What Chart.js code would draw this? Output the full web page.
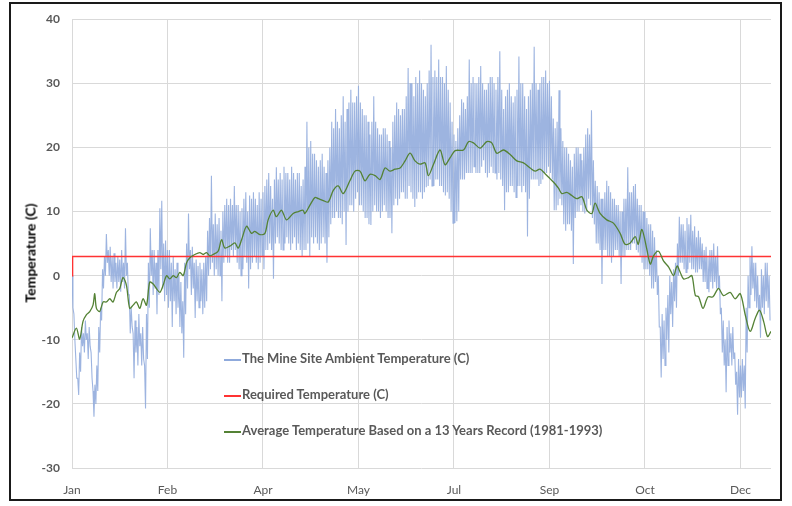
<!DOCTYPE html>
<html>
<head>
<meta charset="utf-8">
<script src="https://cdn.jsdelivr.net/npm/chart.js@4.4.1/dist/chart.umd.min.js"></script>
<style>
  html, body { margin: 0; padding: 0; background: #fff; }
  #wrap { position: relative; width: 792px; height: 506px; }
  #frame { position: absolute; left: 9px; top: 2px; width: 769px; height: 495px; border: 2px solid #1a1a1a; pointer-events: none; }
  .row { position: absolute; left: 224px; height: 16px; line-height: 16px; white-space: nowrap; font: bold 13px Lato, sans-serif; color: #595959; }
  .row span { display: inline-block; width: 17px; height: 0; vertical-align: middle; margin-right: 1px; border-top: 2px solid; }
  #ytitle { position: absolute; left: 30px; top: 253px; transform: translate(-50%, -50%) rotate(-90deg); white-space: nowrap; font: bold 14px Lato, sans-serif; color: #000; }
</style>
</head>
<body>
<div id="wrap">
  <canvas id="chart" width="792" height="506"></canvas>
  <div id="ytitle">Temperature (C)</div>
  <div class="row" style="top:350px"><span style="border-color:#8faadc"></span>The Mine Site Ambient Temperature (C)</div>
  <div class="row" style="top:386px"><span style="border-color:#ff3333"></span>Required Temperature (C)</div>
  <div class="row" style="top:422px"><span style="border-color:#548235"></span>Average Temperature Based on a 13 Years Record (1981-1993)</div>
  <div id="frame"></div>
</div>
<script>
// étiquettes de l'axe x : une tous les 50 jours
const tickStep = 50;
const tickLabels = ['Jan', 'Feb', 'Apr', 'May', 'Jul', 'Sep', 'Oct', 'Dec'];

// température ambiante du site : maxi et mini de chaque jour (jour 0 = 1er janvier)
const ambientHighs = [
  0, -6, -13, -16, -12, -8, -9, -7, -9, -8,
  -12, -18, -17, -14, -8, -5, 1, 3, 6.5, 4,
  4.5, 3, 3.5, 2, 3, 2.5, 4, 2, 7.4, 2,
  -3, -5, -9, -7, -8, -6, -9, -8, -14, -6,
  2, 7.4, 4, 4, 2, 4, 10.5, 11.7, 5, 5.5,
  4, 4, 2, 3, 1, 2, 0, -1, -4, 2,
  5, 9.7, 4, 4.5, 2, 2.5, 1.5, 2, 1, 2,
  3, 7, 9, 15.6, 8, 9.7, 8, 9, 7, 10,
  11, 12, 11, 12, 11, 14, 11, 11, 10, 10.5,
  12, 13, 10, 12.5, 12, 13, 12, 11, 13, 12,
  13, 14, 15, 16, 14, 12, 15, 16.9, 15, 16,
  15, 17, 16, 16, 15, 17, 16, 15, 16, 16,
  14, 15, 17, 24, 20, 21, 19, 19, 18, 17,
  18, 19, 17, 16, 18, 20, 24, 23, 26, 24,
  23, 25, 28, 24, 26, 27, 29, 27, 27, 28,
  29.6, 27, 26, 25, 25, 24, 22, 24, 28, 24,
  23, 22, 22, 23, 23, 22, 21, 20, 24, 25,
  27, 26, 25, 26, 26, 28, 32.4, 30, 30, 28,
  31, 30, 32, 30, 29, 28, 30, 32, 36, 31,
  32, 31, 33.7, 31, 31, 30, 32.7, 29, 27, 24,
  22, 21, 23, 25, 27.5, 27, 26, 28, 33.7, 30,
  31, 30, 30, 31, 32.7, 30, 29, 29, 30, 31,
  31, 30, 29, 31, 35, 29, 26, 28, 29, 30,
  28, 27, 28, 29, 34.2, 30, 30, 28, 26, 28,
  29, 30, 35.7, 30, 29, 30, 31, 31, 32, 30,
  30.4, 28, 24.5, 23, 24, 28.9, 23, 21, 20, 20,
  19, 18, 17, 19, 20, 20, 19, 18, 20, 22,
  23, 22, 25.8, 18, 14.8, 14, 13, 12, 12, 13,
  14.8, 14, 13, 12, 12, 11, 11, 10, 10, 12,
  12, 16.9, 13, 13, 14, 14.3, 12, 11, 11, 10,
  10, 9, 8, 8, 7, 6, 4, 0, -8, -6,
  -7, -5, -3, 0, -1, 1, 2, 5, 9.2, 8,
  8, 7, 9, 8, 9.5, 7, 7.7, 6, 7, 6,
  5, 4, 4.5, 3, 4, 4, 5, 3, 4.6, 0,
  -5, -7, -10, -8, -7, -9, -8, -12, -15, -13,
  -14, -13, -14, -5, 0, 3, 4.6, 2, 2, 0,
  -3, 1, 0, 2, 2, 0
];
const ambientLows = [
  -5, -10, -16, -18.6, -15, -11, -12, -10, -13, -11,
  -16, -22, -20, -18, -12, -7, -2, 0, 2, 0,
  -1, -2, -1, -2, -1, -2.5, -1, -2, 0, -3,
  -9, -8, -16, -12, -14, -11, -14, -13, -20.7, -13,
  -5, 0, -3, -2, -6, -3, 1, -2, -4, -3,
  -5, -4, -8, -4, -6, -5, -8, -9, -12.8, -6,
  -2, 1, -3, -2, -6.6, -4, -5, -4, -6, -5,
  -4, 0, 1, 2, 0, 1, 0, 0, -4, 2,
  3, 2, 2, 4, 3, 4, 2, 1, 0, 1,
  3, 2, -2, 1, 2, 3, 2, 1, 2, 3,
  1, 4, 4, 5, 4, -0.5, 5, 6, 5, 4,
  4, 5, 6, 5, 4, 5, 6, 4, 5, 4,
  3, 4, 4, 5, 3, 6, 5, 6, 5, 4,
  5, 6, 5, 2, 6, 8, 9, 9, 10, 9,
  9, 8, 10, 4.8, 10, 11, 11, 10, 12, 13,
  11, 11, 10, 9, 9, 8, 7.9, 10, 11, 10,
  10, 9, 10, 11, 10, 9, 9, 6.6, 11, 12,
  11, 12, 13, 13, 12, 12, 14, 13, 12, 10.7,
  12, 13, 13, 12, 13, 13.8, 14, 15, 14, 14,
  15, 15, 14, 14, 13, 12.5, 13, 12, 10, 8.2,
  8.2, 8.5, 10, 15, 15, 15, 16, 16, 16, 16,
  17, 16, 16, 16, 17, 18, 16, 15.3, 16, 17,
  16, 16, 15, 16, 15, 14, 10.2, 13, 13, 14,
  14, 13, 12.2, 14, 14, 13, 14, 13, 6.1, 12,
  15, 15, 15, 15, 14, 14.3, 15, 16, 16, 17,
  16, 15, 10.2, 10.2, 11, 12, 11, 8, 7, 8,
  8, 7, 1.8, 9, 10, 10, 11, 10, 9.7, 10,
  12, 11, 9, 8, 5, 5, 4, -1.3, 4, 4,
  3, 3, 2, 3, 4, 4, 3, -1.3, 3, 3,
  4, 4, 4, 5, 5, 4, 3.6, 3, 2, 1,
  1, 1, 0, -2, -2, -1, -3, -8, -15.9, -13,
  -14, -10, -12, -6, -8, -4, -5, 0, 2, 2,
  1, 0.5, 1, 2, 1, 1, 0.5, 0.5, 1, 1,
  -1, -1, -2, -2.6, -1, -2, -1, -2, -2, -6,
  -12, -14, -18.2, -14, -12, -14, -13, -17, -21.7, -19,
  -19, -18, -20.7, -12, -5, -3, -2, -4, -5, -5.6,
  -9.7, -5, -6, -4, -5, -7
];

// température requise
const requiredDays = [0, 0.3, 366];
const requiredTemps = [0, 3, 3];

// moyenne sur 13 ans (1981-1993)
const avgDays = [
  0, 2.3, 4, 5.8, 7.5, 9.3, 11, 11.9, 12.8, 14.5, 16.3, 18, 19.8, 21.5, 23.3, 25, 26.7, 28.5,
  30.2, 32, 33.7, 35.5, 37.2, 39, 40.7, 42.5, 44.2, 46, 47.7, 49.5, 51.2, 53, 54.7, 56.5, 58.2,
  60, 61.7, 64.3, 66.9, 68.7, 70.4, 72.1, 73.9, 76.5, 78.3, 80, 82.6, 85.3, 87, 88.8, 91.4, 94,
  95.7, 98.4, 101, 102.7, 105.3, 107, 109.7, 112.3, 115.8, 118.5, 121, 121.9, 124.6, 127.2, 129,
  131.6, 134.2, 136.8, 139.4, 142, 145.5, 148.2, 150.8, 153.4, 156, 158.7, 161.3, 163.9, 166.5,
  169.1, 171.8, 174.4, 177, 179.6, 182.2, 184.9, 186.6, 189.2, 192.7, 195.3, 198, 200.6, 205,
  207.6, 210.2, 213.7, 217.2, 219.8, 222.4, 225.9, 229.4, 232.9, 236.4, 239.9, 242.5, 245,
  247.7, 250.4, 253, 254.8, 256.5, 259.1, 261.7, 264.3, 267, 269.6, 272.2, 273.9, 276.5, 280,
  283.5, 287, 289.6, 292.3, 294.9, 296.5, 298.4, 301, 302.8, 304.5, 307.1, 309.7, 312.5, 315,
  316.8, 318.5, 320.2, 322.8, 324.6, 326.4, 328.1, 330.4, 333, 335.6, 338.5, 341.1, 344.6,
  347.2, 349.9, 352.5, 355.1, 357.8, 360, 362.2, 364.2, 366
];
const avgTemps = [
  -9.7, -8.2, -9.9, -7.1, -6.1, -5.6, -4.6, -2.8, -5.1, -5.6, -4.1, -4.1, -3.6, -4.1, -2.6, -2, -0.3, -1.5,
  -5.1, -4.6, -4.1, -5.1, -3.6, -4.6, -1, -1.3, -2, -2.6, -1.5, 0, -0.5, 0, -0.3, 0.5, 0,
  2, 2.8, 3.3, 3.6, 3.3, 3.6, 3.1, 3.3, 3.8, 5.6, 4.3, 4.6, 5.1, 4.3, 5.6, 7.7, 6.6,
  6.9, 6.4, 6.6, 8.7, 10.2, 9.2, 10.2, 8.7, 9.7, 10, 10.2, 9.7, 11, 12.2, 12,
  11.7, 11.5, 13.3, 14, 12.8, 14.8, 16.3, 16.3, 14.8, 15.8, 15.6, 15, 16.8, 16.3,
  16.6, 16.8, 17.9, 19.1, 17.9, 17.4, 17.6, 15.6, 17.3, 19.6, 17.3, 18.4, 19.5, 19.6,
  20.9, 20.7, 19.9, 20.9, 20.7, 19.1, 19.6, 18.9, 17.9, 17.6, 16.8, 16.3, 16.6,
  15.9, 15.1, 14.3, 13.6, 12.8, 13, 12.5, 12, 12.3, 10.2, 9.7, 11.3, 9.7, 8.7,
  8.2, 6.6, 4.9, 5.1, 6.1, 4.9, 7.2, 4.1, 1.8, 3.1, 3.8, 2.3, 1.3, 0,
  1.5, 0.5, -0.5, -0.3, 0, -3.1, -3.3, -5.1, -3.3, -3.3, -2, -3.1, -2.6,
  -3.6, -2.8, -6.1, -8.7, -6.6, -5.4, -7.2, -9.5, -8.7
];

const pts = (xs, ys) => ys.map((y, i) => ({ x: xs[i], y }));
// maxi puis mini de chaque jour, à une demi-journée d'écart
const ambientPts = [];
ambientHighs.forEach((h, i) => {
  ambientPts.push({ x: i, y: h });
  ambientPts.push({ x: i + 0.5, y: ambientLows[i] });
});

new Chart(document.getElementById('chart'), {
  type: 'line',
  data: {
    datasets: [
      { label: 'Average Temperature Based on a 13 Years Record (1981-1993)', data: pts(avgDays, avgTemps),
        borderColor: '#548235', borderWidth: 1.3, tension: 0.3, order: 1 },
      { label: 'Required Temperature (C)', data: pts(requiredDays, requiredTemps),
        borderColor: '#ff3333', borderWidth: 1.5, order: 2 },
      { label: 'The Mine Site Ambient Temperature (C)', data: ambientPts,
        borderColor: 'rgba(143,170,220,0.88)', borderWidth: 1.1, order: 3 }
    ]
  },
  options: {
    responsive: false,
    animation: false,
    events: [],
    elements: { point: { radius: 0 }, line: { tension: 0 } },
    layout: { padding: { left: 12, right: 21, top: 12, bottom: 0 } },
    plugins: { legend: { display: false }, tooltip: { enabled: false } },
    scales: {
      x: {
        type: 'linear', min: 0, max: 366,
        afterFit: s => { s.height = 38; },
        grid: { color: '#d9d9d9', drawTicks: false },
        border: { display: false },
        ticks: {
          stepSize: tickStep, includeBounds: false, padding: 15, maxRotation: 0, autoSkip: false,
          color: '#595959', font: { family: 'Lato', size: 12 },
          callback: v => tickLabels[v / tickStep]
        }
      },
      y: {
        min: -30, max: 40,
        afterFit: s => { s.width = 60; },
        grid: { color: '#d9d9d9', drawTicks: false },
        border: { display: false },
        ticks: { stepSize: 10, padding: 12, color: '#595959', font: { family: 'Lato', size: 12, weight: 'bold' } }
      }
    }
  }
});
</script>
</body>
</html>
